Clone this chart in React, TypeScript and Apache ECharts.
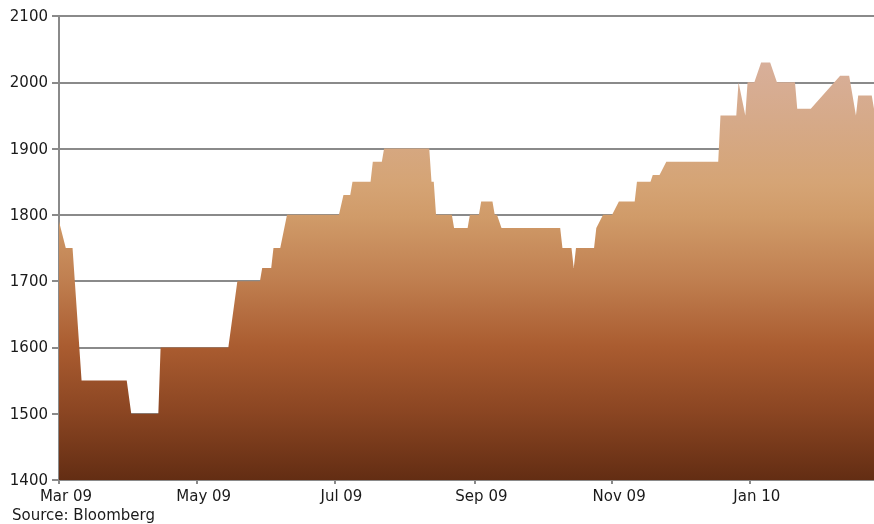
import React, { useEffect, useRef } from "react";
import * as echarts from "echarts";

const dates = [
  "2009-03-01", "2009-03-04", "2009-03-07", "2009-03-11", "2009-03-31", "2009-04-02",
  "2009-04-14", "2009-04-15", "2009-05-15", "2009-05-19", "2009-05-29", "2009-05-30",
  "2009-06-03", "2009-06-04", "2009-06-07", "2009-06-10", "2009-07-03", "2009-07-05",
  "2009-07-08", "2009-07-09", "2009-07-17", "2009-07-18", "2009-07-22", "2009-07-23",
  "2009-08-12", "2009-08-13", "2009-08-14", "2009-08-15", "2009-08-22", "2009-08-23",
  "2009-08-29", "2009-08-30", "2009-09-03", "2009-09-04", "2009-09-09", "2009-09-10",
  "2009-09-11", "2009-09-13", "2009-10-09", "2009-10-10", "2009-10-14", "2009-10-15",
  "2009-10-16", "2009-10-24", "2009-10-25", "2009-10-28", "2009-11-01", "2009-11-04",
  "2009-11-11", "2009-11-12", "2009-11-18", "2009-11-19", "2009-11-22", "2009-11-25",
  "2009-12-18", "2009-12-19", "2009-12-26", "2009-12-27", "2009-12-30", "2009-12-31",
  "2010-01-03", "2010-01-06", "2010-01-10", "2010-01-13", "2010-01-21", "2010-01-22",
  "2010-01-28", "2010-02-10", "2010-02-14", "2010-02-17", "2010-02-18", "2010-02-24",
  "2010-02-25",
];

const prices = [
  1790, 1750, 1750, 1550, 1550, 1500,
  1500, 1600, 1600, 1700, 1700, 1720,
  1720, 1750, 1750, 1800, 1800, 1830,
  1830, 1850, 1850, 1880, 1880, 1900,
  1900, 1850, 1850, 1800, 1800, 1780,
  1780, 1800, 1800, 1820, 1820, 1800,
  1800, 1780, 1780, 1750, 1750, 1720,
  1750, 1750, 1780, 1800, 1800, 1820,
  1820, 1850, 1850, 1860, 1860, 1880,
  1880, 1950, 1950, 2000, 1950, 2000,
  2000, 2030, 2030, 2000, 2000, 1960,
  1960, 2010, 2010, 1950, 1980, 1980,
  1960,
];

const tickDates = ["2009-03-01", "2009-05-01", "2009-07-01", "2009-09-01", "2009-11-01", "2010-01-01"];
const tickLabels = ["Mar 09", "May 09", "Jul 09", "Sep 09", "Nov 09", "Jan 10"];

const axisStart = "2009-03-01";
const axisEnd = "2010-02-25";
const yMin = 1400;
const yMax = 2100;
const yStep = 100;
const sourceText = "Source: Bloomberg";

const ts = (s: string) => new Date(s + "T00:00:00Z").getTime();

export default function App() {
  const ref = useRef<HTMLDivElement>(null);

  useEffect(() => {
    if (!ref.current) return;
    const chart = echarts.init(ref.current, undefined, { renderer: "svg" });
    const tickTs = tickDates.map(ts);
    const font = "DejaVu Sans";
    const gray = "#8a8a8a";

    chart.setOption({
      animation: false,
      grid: { left: 59, right: 0, top: 16, bottom: 44, containLabel: false },
      xAxis: {
        type: "value",
        min: ts(axisStart),
        max: ts(axisEnd),
        axisLine: { show: true, lineStyle: { color: gray, width: 2 } },
        axisTick: {
          show: true,
          customValues: tickTs,
          length: 4,
          lineStyle: { color: gray, width: 2 },
        },
        axisLabel: {
          customValues: tickTs,
          formatter: (v: number) => {
            const i = tickTs.indexOf(v);
            return i >= 0 ? tickLabels[i] : "";
          },
          color: "#1a1a1a",
          fontFamily: font,
          fontSize: 15,
          margin: 8,
          padding: [0, 0, 0, 14],
        },
        splitLine: { show: false },
      },
      yAxis: {
        type: "value",
        min: yMin,
        max: yMax,
        interval: yStep,
        axisLine: { show: true, lineStyle: { color: gray, width: 2 } },
        axisTick: { show: true, length: 7, lineStyle: { color: gray, width: 2 } },
        axisLabel: {
          color: "#1a1a1a",
          fontFamily: font,
          fontSize: 15,
          margin: 11,
          formatter: (v: number) => String(v),
        },
        splitLine: { show: true, lineStyle: { color: gray, width: 2 } },
      },
      series: [
        {
          type: "line",
          data: dates.map((d, i) => [ts(d), prices[i]]),
          showSymbol: false,
          symbol: "none",
          lineStyle: { width: 0 },
          areaStyle: {
            opacity: 1,
            color: new echarts.graphic.LinearGradient(0, 0, 0, 1, [
              { offset: 0, color: "#d8af9a" },
              { offset: 0.13, color: "#d6aa8a" },
              { offset: 0.29, color: "#d5a475" },
              { offset: 0.37, color: "#d09b69" },
              { offset: 0.52, color: "#c07f50" },
              { offset: 0.68, color: "#aa5c30" },
              { offset: 0.84, color: "#8a4522" },
              { offset: 1, color: "#632d13" },
            ]),
          },
          z: 1,
        },
      ],
      graphic: [
        {
          type: "text",
          left: 12,
          top: 507,
          style: {
            text: sourceText,
            fill: "#1a1a1a",
            font: `15px "${font}"`,
          },
        },
      ],
    });

    return () => chart.dispose();
  }, []);

  return (
    <div
      ref={ref}
      style={{ position: "fixed", left: 0, top: 0, width: 874, height: 524 }}
    />
  );
}
